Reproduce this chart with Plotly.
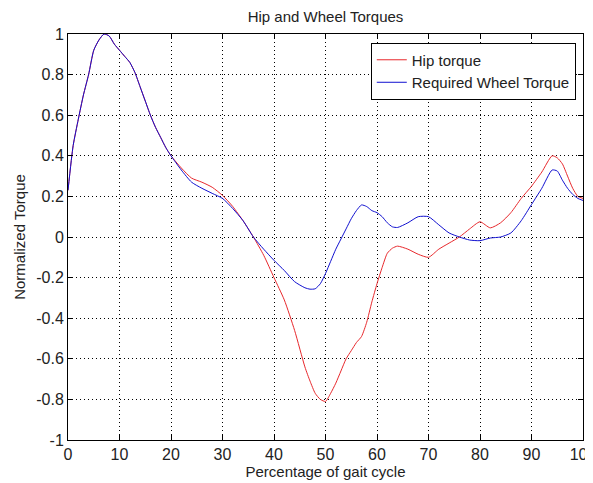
import plotly.graph_objects as go

# Percentage of gait cycle
gait_pct = [0, 1, 2, 3, 4, 5, 6, 7, 8, 9, 10, 11, 12, 13, 14, 15, 16, 17, 18, 19, 20,
            22, 24, 26, 28, 30, 32, 34, 36, 38, 40, 42, 44, 46, 47, 48, 49, 50, 51, 52,
            53, 54, 55, 56, 57, 58, 59, 60, 61, 62, 63, 64, 66, 68, 70, 72, 74, 76, 78,
            80, 82, 84, 86, 88, 90, 92, 94, 95, 96, 97, 98, 99, 100]

hip_torque = [0.23, 0.45, 0.58, 0.70, 0.80, 0.92, 0.97, 1.00, 0.99, 0.95, 0.92, 0.89, 0.86,
              0.81, 0.74, 0.67, 0.60, 0.54, 0.49, 0.44, 0.40,
              0.34, 0.29, 0.27, 0.245, 0.205, 0.15, 0.08, 0.0, -0.09, -0.20, -0.31, -0.46,
              -0.64, -0.71, -0.77, -0.80, -0.81, -0.77, -0.72,
              -0.66, -0.60, -0.56, -0.52, -0.49, -0.42, -0.32, -0.23, -0.15, -0.08,
              -0.055, -0.045, -0.06, -0.085, -0.10, -0.06, -0.03, 0.0, 0.04,
              0.075, 0.045, 0.07, 0.12, 0.19, 0.25, 0.32, 0.40, 0.39, 0.36, 0.30, 0.24, 0.20, 0.19]

wheel_torque = [0.23, 0.45, 0.58, 0.70, 0.80, 0.92, 0.97, 1.00, 0.99, 0.95, 0.92, 0.89, 0.86,
                0.81, 0.74, 0.67, 0.60, 0.54, 0.49, 0.44, 0.40,
                0.33, 0.27, 0.24, 0.215, 0.19, 0.14, 0.08, 0.0, -0.06, -0.115, -0.165, -0.22,
                -0.25, -0.257, -0.255, -0.23, -0.18, -0.12, -0.06,
                -0.01, 0.04, 0.09, 0.13, 0.158, 0.15, 0.13, 0.12, 0.10, 0.07,
                0.05, 0.047, 0.07, 0.10, 0.10, 0.06, 0.02, 0.0, -0.015,
                -0.018, -0.005, 0.0, 0.02, 0.08, 0.16, 0.24, 0.33, 0.325, 0.28, 0.24, 0.21, 0.19, 0.18]

x_ticks = [0, 10, 20, 30, 40, 50, 60, 70, 80, 90, 100]
x_tick_labels = ["0", "10", "20", "30", "40", "50", "60", "70", "80", "90", "100"]
y_ticks = [-1, -0.8, -0.6, -0.4, -0.2, 0, 0.2, 0.4, 0.6, 0.8, 1]
y_tick_labels = ["-1", "-0.8", "-0.6", "-0.4", "-0.2", "0", "0.2", "0.4", "0.6", "0.8", "1"]

FONT = "Liberation Sans, Arial, sans-serif"
TXT = "#222"

# page body has an 8px default margin; size the figure to fit the window
W, H = 593 - 8, 483 - 8

fig = go.Figure()
fig.add_trace(go.Scatter(x=gait_pct, y=hip_torque, mode="lines", name="Hip torque",
                         line=dict(color="#e8282c", width=1, shape="spline", smoothing=0.6)))
fig.add_trace(go.Scatter(x=gait_pct, y=wheel_torque, mode="lines", name="Required Wheel Torque",
                         line=dict(color="#1010d0", width=1, shape="spline", smoothing=0.6)))

axis_common = dict(
    showline=True, linecolor="black", linewidth=1, mirror="ticks",
    ticks="inside", ticklen=5, tickcolor="black", tickwidth=1,
    showgrid=True, gridcolor="black", gridwidth=1, griddash="1px,3px",
    zeroline=False, tickfont=dict(family=FONT, size=16, color=TXT),
    automargin=False, ticklabeloverflow="allow",
)

fig.update_xaxes(range=[0, 100], tickvals=x_ticks, ticktext=x_tick_labels,
                 title=dict(text="Percentage of gait cycle", font=dict(family=FONT, size=15, color=TXT),
                            standoff=0),
                 **axis_common)
fig.update_yaxes(range=[-1, 1], tickvals=y_ticks, ticktext=y_tick_labels,
                 title=dict(text="Normalized Torque", font=dict(family=FONT, size=15, color=TXT),
                            standoff=6),
                 **axis_common)

fig.update_layout(
    width=W, height=H,
    margin=dict(l=60, r=10, t=26, b=43, pad=0),
    paper_bgcolor="white", plot_bgcolor="white",
    title=dict(text="Hip and Wheel Torques", font=dict(family=FONT, size=15, color=TXT),
               x=(325.5 - 8) / W, xanchor="center", y=1 - 9 / H, yanchor="middle",
               xref="container", yref="container"),
    legend=dict(x=0.986, y=0.979, xanchor="right", yanchor="top",
                bgcolor="white", bordercolor="black", borderwidth=1,
                font=dict(family=FONT, size=15, color=TXT), tracegroupgap=0),
    showlegend=True,
)

fig.write_html("out.html")
